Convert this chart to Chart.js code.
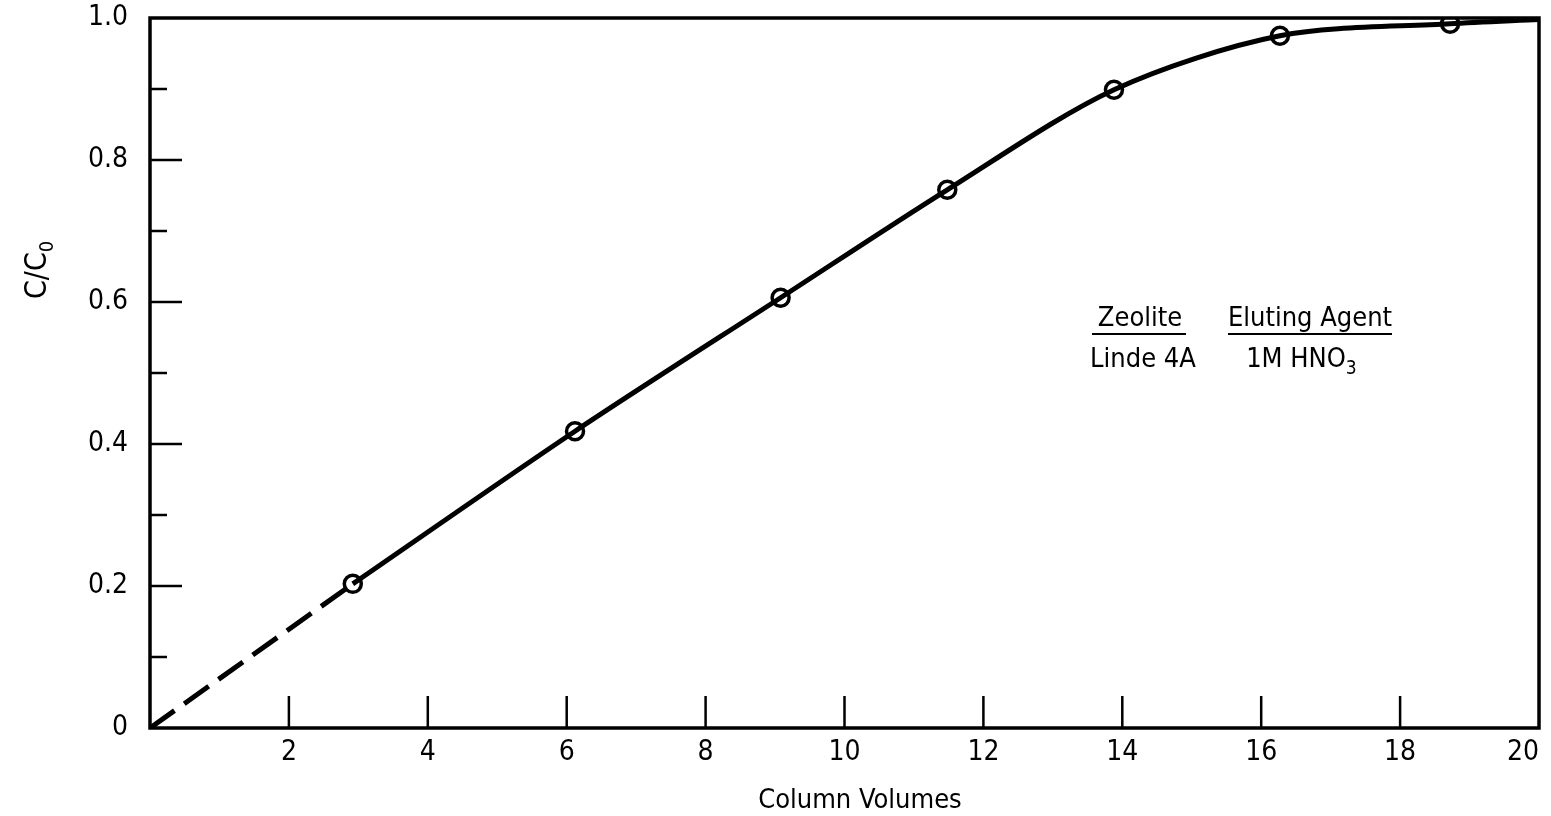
<!DOCTYPE html>
<html>
<head>
<meta charset="utf-8">
<script src="https://cdn.jsdelivr.net/npm/chart.js@4"></script>
<style>
  html, body { margin: 0; padding: 0; background: #fff; }
  #wrap { width: 1551px; height: 816px; }
</style>
</head>
<body>
<div id="wrap"><canvas id="chart" width="1551" height="816"></canvas></div>
<script>
const FONT = "'Liberation Sans Narrow', 'DejaVu Sans Condensed', sans-serif";

const colVolumes = [2.92, 6.12, 9.08, 11.48, 13.88, 16.27, 18.72];
const ratio = [0.203, 0.418, 0.606, 0.758, 0.899, 0.975, 0.992];
// where the smooth curve runs out at the right edge
const curveEndX = [20];
const curveEndY = [0.998];
// dashed extrapolation back to the origin
const dashX = [0, 2.92];
const dashY = [0, 0.203];

// 0 carries an empty label so the last label can sit inside the canvas
const xTickValues = [0, 2, 4, 6, 8, 10, 12, 14, 16, 18, 20];
const yTickLabels = ['0', '0.2', '0.4', '0.6', '0.8', '1.0'];
const yMinorTicks = [0.1, 0.3, 0.5, 0.7, 0.9];

function pts(xs, ys) {
  return xs.map((x, i) => ({ x: x, y: ys[i] }));
}

// frame, inward ticks, titles and the note
const decor = {
  id: 'decor',
  afterDraw(chart) {
    const ctx = chart.ctx;
    const a = chart.chartArea;
    const xs = chart.scales.x, ys = chart.scales.y;
    ctx.save();
    ctx.strokeStyle = '#000';
    ctx.lineWidth = 3.5;
    ctx.strokeRect(a.left, a.top, a.right - a.left, a.bottom - a.top);

    ctx.lineWidth = 2.5;
    ctx.beginPath();
    xTickValues.forEach(v => {
      if (v <= 0 || v >= 20) return;
      const px = xs.getPixelForValue(v);
      ctx.moveTo(px, a.bottom);
      ctx.lineTo(px, a.bottom - 32);
    });
    [0.2, 0.4, 0.6, 0.8].forEach(v => {
      const py = ys.getPixelForValue(v);
      ctx.moveTo(a.left, py);
      ctx.lineTo(a.left + 32, py);
    });
    yMinorTicks.forEach(v => {
      const py = ys.getPixelForValue(v);
      ctx.moveTo(a.left, py);
      ctx.lineTo(a.left + 17, py);
    });
    ctx.stroke();

    ctx.fillStyle = '#000';
    // y title C/C0, rotated
    ctx.save();
    ctx.translate(46, 265);
    ctx.rotate(-Math.PI / 2);
    ctx.font = '30px ' + FONT;
    ctx.textAlign = 'left';
    ctx.textBaseline = 'alphabetic';
    const w1 = ctx.measureText('C/C').width;
    ctx.fillText('C/C', -34, 0);
    ctx.font = '20px ' + FONT;
    ctx.fillText('0', -34 + w1, 7);
    ctx.restore();

    // x title
    ctx.font = '27px ' + FONT;
    ctx.textAlign = 'center';
    ctx.textBaseline = 'middle';
    ctx.fillText('Column Volumes', 860, 801);

    // note: Zeolite / Linde 4A, Eluting Agent / 1M HNO3
    ctx.font = '27px ' + FONT;
    ctx.textAlign = 'center';
    ctx.textBaseline = 'alphabetic';
    ctx.fillText('Zeolite', 1140, 326);
    ctx.fillText('Linde 4A', 1143, 367);
    ctx.fillText('Eluting Agent', 1310, 326);
    ctx.textAlign = 'left';
    const t = '1M HNO';
    const tw = ctx.measureText(t).width;
    ctx.fillText(t, 1302 - tw / 2 - 6, 367);
    ctx.font = '19px ' + FONT;
    ctx.fillText('3', 1302 + tw / 2 - 6, 374);
    ctx.lineWidth = 2;
    ctx.beginPath();
    ctx.moveTo(1092, 334); ctx.lineTo(1186, 334);
    ctx.moveTo(1228, 334); ctx.lineTo(1392, 334);
    ctx.stroke();
    ctx.restore();
  }
};

new Chart(document.getElementById('chart'), {
  type: 'scatter',
  data: {
    datasets: [
      {
        // dashed lead-in
        data: pts(dashX, dashY),
        showLine: true,
        borderColor: '#000',
        borderWidth: 5,
        borderDash: [30, 12],
        pointRadius: 0
      },
      {
        // smooth fitted curve
        data: pts(colVolumes, ratio).concat(pts(curveEndX, curveEndY)),
        showLine: true,
        borderColor: '#000',
        borderWidth: 5,
        tension: 0.3,
        pointRadius: 0
      },
      {
        // open circle markers
        data: pts(colVolumes, ratio),
        pointRadius: 8.5,
        pointBorderWidth: 3.5,
        pointBorderColor: '#000',
        pointBackgroundColor: '#fff'
      },
      {
        // centre dots
        data: pts(colVolumes, ratio),
        pointRadius: 2,
        pointBorderWidth: 0,
        pointBackgroundColor: '#000'
      }
    ]
  },
  options: {
    responsive: false,
    animation: false,
    devicePixelRatio: 1,
    layout: { padding: { top: 18, right: 11, left: 0, bottom: 0 } },
    plugins: {
      legend: { display: false },
      tooltip: { enabled: false }
    },
    scales: {
      x: {
        type: 'linear',
        min: 0,
        max: 20,
        afterFit: s => {
          s.height = 88;
          s.paddingLeft = 0; s.paddingRight = 0;
        },
        afterBuildTicks: s => { s.ticks = xTickValues.map(v => ({ value: v })); },
        grid: { display: false, drawTicks: false },
        border: { display: false },
        ticks: {
          color: '#000',
          padding: 8,
          align: 'inner',
          font: { family: FONT, size: 28 },
          maxRotation: 0,
          autoSkip: false,
          callback: v => (v === 0 ? '' : String(v))
        }
      },
      y: {
        type: 'linear',
        min: 0,
        max: 1,
        afterFit: s => {
          s.width = 150;
          s.paddingTop = 0; s.paddingBottom = 0;
        },
        afterBuildTicks: s => { s.ticks = yTickLabels.map(v => ({ value: parseFloat(v) })); },
        grid: { display: false, drawTicks: false },
        border: { display: false },
        ticks: {
          color: '#000',
          padding: 22,
          font: { family: FONT, size: 28 },
          autoSkip: false,
          callback: (v, i) => yTickLabels[i]
        }
      }
    }
  },
  plugins: [decor]
});
</script>
</body>
</html>
